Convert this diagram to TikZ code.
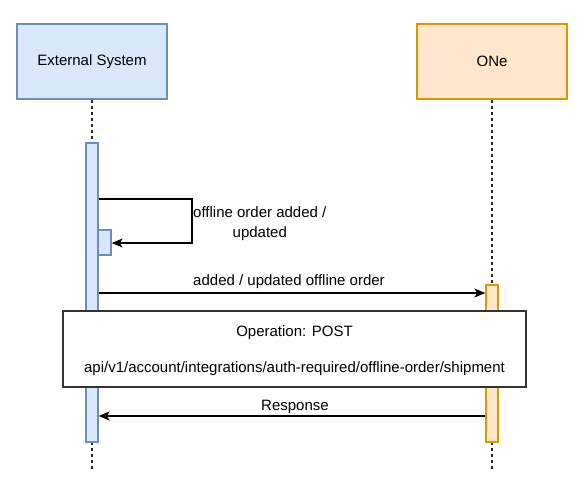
\documentclass[tikz,border=0pt]{standalone}
\usepackage{fontspec}
\setmainfont{Liberation Sans}
\usetikzlibrary{arrows.meta}
\definecolor{bluefill}{HTML}{DAE8FC}
\definecolor{bluestroke}{HTML}{6C8EBF}
\definecolor{orangefill}{HTML}{FFE6CC}
\definecolor{orangestroke}{HTML}{D79B00}
\definecolor{boxstroke}{HTML}{333333}
\tikzset{
  headbox/.style={minimum width=150pt, minimum height=75pt, inner sep=0pt, line width=1.3pt},
  bluestyle/.style={fill=bluefill, draw=bluestroke},
  orangestyle/.style={fill=orangefill, draw=orangestroke},
  lifeline/.style={dash pattern=on 3pt off 3pt, line width=1.2pt, draw=black!85},
  actbar/.style={minimum width=12pt, inner sep=0pt, line width=1.3pt},
  msg/.style={line width=1.2pt, -{Stealth[length=11pt,width=9pt,inset=3pt]}},
  msglabel/.style={inner sep=0pt},
  opbox/.style={draw=boxstroke, fill=white, line width=1.3pt, minimum width=463pt, minimum height=76pt, align=center, inner sep=0pt}
}
\begin{document}
\begin{tikzpicture}[x=1pt,y=-1pt, font=\fontsize{15}{18}\selectfont]
\useasboundingbox (0,0) rectangle (581,477);
% heads
\node[headbox, bluestyle] (ext) at (92,61.5) {External System};
\node[headbox, orangestyle] (one) at (492,61.5) {ONe};
% lifelines
\coordinate (extend) at (92,470);
\coordinate (oneend) at (492,470);
\draw[lifeline] (ext.south) -- (extend);
\draw[lifeline] (one.south) -- (oneend);
% activation bars
\node[actbar, bluestyle, minimum height=299pt] (extact) at (92,292.5) {};
\node[actbar, bluestyle, minimum width=13pt, minimum height=25pt] (small) at (104.5,242.5) {};
\node[actbar, orangestyle, minimum height=157pt] (oneact) at (492,363.5) {};
% self message
\coordinate (s1) at (192,199);
\coordinate (s2) at (192,243);
\draw[msg] (extact.east |- s1) -- (s1) -- (s2) -- (small.east |- s2);
\node[msglabel, anchor=west, align=center, font=\fontsize{15}{20}\selectfont] (selflbl) at (193,224) {offline order added /\\updated};
% request message
\coordinate (m1) at (0,293);
\draw[msg] (extact.east |- m1) -- (oneact.west |- m1);
\node[msglabel] (reqlbl) at (289,282) {added / updated offline order};
% operation box
\node[opbox] (op) at (294.5,349) {};
\node[msglabel, align=center] (optext) at (294.5,351) {Operation: POST\\[18pt]api/v1/account/integrations/auth-required/offline-order/shipment};
% response
\coordinate (r1) at (0,416);
\draw[msg] (oneact.west |- r1) -- (extact.east |- r1);
\node[msglabel] (resplbl) at (295,407) {Response};
\end{tikzpicture}
\end{document}
